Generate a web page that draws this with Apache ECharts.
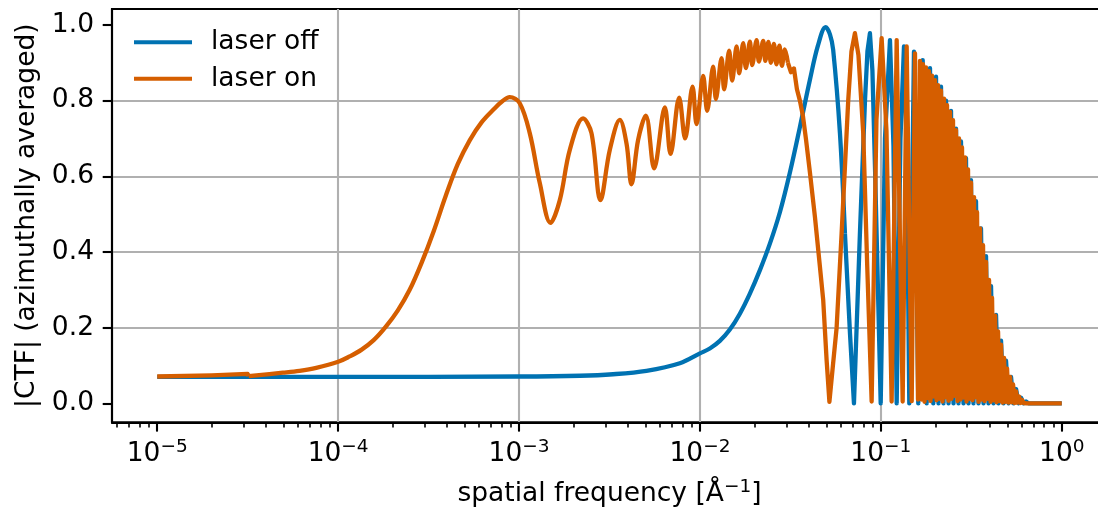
<!DOCTYPE html>
<html>
<head>
<meta charset="utf-8">
<title>CTF</title>
<script src="https://cdn.jsdelivr.net/npm/echarts@6/dist/echarts.min.js"></script>
<style>
  html, body { margin: 0; padding: 0; background: #ffffff; }
  #chart { width: 1098px; height: 521px; }
</style>
</head>
<body>
<div id="chart"></div>
<script>
// Series names
const seriesNames = ['laser off', 'laser on'];

// Laser off: spatial frequency [1/Å] and |CTF|
const offFreq = [
  1e-5, 1e-4, 1e-3, 2.17e-3, 3.31e-3, 5.06e-3, 7.74e-3, 1.00e-2, 1.134e-2, 1.288e-2,
  1.463e-2, 1.662e-2, 1.888e-2, 2.145e-2, 2.435e-2, 2.766e-2, 3.142e-2, 3.568e-2, 4.054e-2, 4.488e-2,
  4.950e-2, 5.23e-2, 5.45e-2, 5.94e-2, 6.33e-2, 6.75e-2, 7.10e-2, 7.66e-2, 8.17e-2, 8.43e-2,
  8.70e-2, 8.98e-2, 9.28e-2, 9.98e-2, 0.1054, 0.1123, 0.1174, 0.1223, 0.1283, 0.1342,
  0.1389, 0.1436, 0.1524, 0.1610, 0.1703, 0.1792, 0.1869, 0.1949, 0.2018, 0.2083,
  0.2150, 0.2220, 0.2292, 0.2366, 0.2442, 0.2521, 0.2603, 0.2687, 0.2773, 0.2863,
  0.2955, 0.3051, 0.3149, 0.3251, 0.3357, 0.3465, 0.3577, 0.3693, 0.3813, 0.3936,
  0.4064, 0.4195, 0.4331, 0.4471, 0.4616, 0.4765, 0.4919, 0.5079, 0.5243, 0.5412,
  0.5587, 0.5768, 0.5955, 0.6147, 0.6346, 0.6552, 1.0
];
const offValue = [
  0.070, 0.070, 0.071, 0.073, 0.077, 0.086, 0.106, 0.132, 0.145, 0.165,
  0.195, 0.237, 0.290, 0.352, 0.422, 0.505, 0.610, 0.730, 0.855, 0.945,
  0.994, 0.975, 0.934, 0.714, 0.449, 0.185, 0.000, 0.449, 0.800, 0.930,
  0.978, 0.880, 0.625, 0.000, 0.700, 0.960, 0.680, 0.000, 0.700, 0.943,
  0.680, 0.000, 0.929, 0.000, 0.907, 0.000, 0.886, 0.000, 0.863, 0.000,
  0.837, 0.000, 0.800, 0.000, 0.773, 0.000, 0.726, 0.000, 0.692, 0.000,
  0.648, 0.000, 0.590, 0.000, 0.534, 0.000, 0.462, 0.000, 0.389, 0.000,
  0.310, 0.000, 0.234, 0.000, 0.166, 0.000, 0.113, 0.000, 0.070, 0.000,
  0.038, 0.000, 0.015, 0.000, 0.005, 0.000, 0.000
];

// Laser on: spatial frequency [1/Å] and |CTF|
const onFreq = [
  1e-5, 2e-5, 3.16e-5, 3.20e-5, 4.95e-5, 6.12e-5, 7.57e-5, 1.00e-4, 1.157e-4, 1.349e-4,
  1.572e-4, 1.831e-4, 2.134e-4, 2.486e-4, 2.896e-4, 3.374e-4, 3.931e-4, 4.581e-4, 5.337e-4, 6.218e-4,
  7.244e-4, 8.020e-4, 8.88e-4, 1.009e-3, 1.146e-3, 1.302e-3, 1.492e-3, 1.680e-3, 1.908e-3, 2.259e-3,
  2.514e-3, 2.819e-3, 3.176e-3, 3.606e-3, 3.926e-3, 4.183e-3, 4.551e-3, 5.020e-3, 5.580e-3, 6.394e-3,
  6.878e-3, 7.674e-3, 8.279e-3, 9.101e-3, 9.576e-3, 1.0416e-2, 1.0959e-2, 1.1830e-2, 1.2243e-2, 1.3166e-2,
  1.3606e-2, 1.4502e-2, 1.5067e-2, 1.5937e-2, 1.6473e-2, 1.7333e-2, 1.7942e-2, 1.888e-2, 1.944e-2, 2.056e-2,
  2.117e-2, 2.236e-2, 2.299e-2, 2.389e-2, 2.466e-2, 2.562e-2, 2.646e-2, 2.749e-2, 2.838e-2, 2.948e-2,
  3.063e-2, 3.183e-2, 3.307e-2, 3.436e-2, 3.568e-2, 3.707e-2, 3.851e-2, 4.054e-2, 4.320e-2, 4.604e-2,
  4.801e-2, 5.013e-2, 5.195e-2, 5.432e-2, 5.694e-2, 6.068e-2, 6.330e-2, 6.603e-2, 6.877e-2, 7.189e-2,
  7.517e-2, 7.991e-2, 8.409e-2, 8.893e-2, 9.456e-2, 0.1010, 0.1074, 0.1147, 0.1223, 0.1320,
  0.1389, 0.1481, 0.1544, 0.1604, 0.16456, 0.16773, 0.17097, 0.17426, 0.17763, 0.18105,
  0.18455, 0.18811, 0.19173, 0.19543, 0.19920, 0.20305, 0.20696, 0.21096, 0.21503, 0.21917,
  0.22340, 0.22771, 0.23210, 0.23658, 0.24115, 0.24580, 0.25054, 0.25537, 0.26030, 0.26532,
  0.27044, 0.27566, 0.28098, 0.28640, 0.29192, 0.29755, 0.30329, 0.30915, 0.31511, 0.32119,
  0.32739, 0.33370, 0.34014, 0.34670, 0.35339, 0.36021, 0.36716, 0.37424, 0.38146, 0.38882,
  0.39632, 0.40397, 0.41176, 0.41970, 0.42780, 0.43605, 0.44446, 0.45304, 0.46178, 0.47069,
  0.47977, 0.48902, 0.49846, 0.50807, 0.51787, 0.52786, 0.53805, 0.54843, 0.55901, 0.56979,
  0.58079, 0.59199, 0.60341, 0.61505, 0.62692, 0.63901, 1.0
];
const onValue = [
  0.071, 0.074, 0.078, 0.072, 0.081, 0.086, 0.094, 0.110, 0.124, 0.142,
  0.167, 0.202, 0.245, 0.300, 0.372, 0.455, 0.548, 0.632, 0.695, 0.743,
  0.777, 0.797, 0.809, 0.793, 0.714, 0.582, 0.477, 0.537, 0.670, 0.753,
  0.714, 0.537, 0.670, 0.749, 0.687, 0.579, 0.696, 0.760, 0.621, 0.782,
  0.659, 0.808, 0.700, 0.837, 0.738, 0.865, 0.773, 0.890, 0.804, 0.912,
  0.830, 0.932, 0.853, 0.943, 0.872, 0.952, 0.886, 0.956, 0.894, 0.960,
  0.903, 0.958, 0.905, 0.955, 0.900, 0.950, 0.896, 0.945, 0.892, 0.935,
  0.900, 0.875, 0.885, 0.830, 0.800, 0.760, 0.700, 0.610, 0.493, 0.361,
  0.273, 0.114, 0.004, 0.100, 0.200, 0.449, 0.625, 0.802, 0.930, 0.978,
  0.920, 0.714, 0.361, 0.005, 0.750, 0.965, 0.720, 0.005, 0.960, 0.005,
  0.943, 0.006, 0.925, 0.010, 0.905, 0.010, 0.896, 0.004, 0.888, 0.014,
  0.878, 0.006, 0.866, 0.018, 0.854, 0.008, 0.841, 0.012, 0.826, 0.005,
  0.805, 0.016, 0.788, 0.007, 0.770, 0.012, 0.748, 0.020, 0.722, 0.006,
  0.700, 0.010, 0.676, 0.015, 0.650, 0.005, 0.618, 0.012, 0.583, 0.008,
  0.545, 0.016, 0.505, 0.004, 0.462, 0.010, 0.418, 0.006, 0.374, 0.012,
  0.326, 0.004, 0.279, 0.008, 0.232, 0.003, 0.190, 0.006, 0.155, 0.002,
  0.120, 0.004, 0.092, 0.002, 0.070, 0.003, 0.050, 0.001, 0.032, 0.002,
  0.018, 0.001, 0.009, 0.001, 0.004, 0.000, 0.000
];

// Axis ticks
const xMajorTicks = [1e-5, 1e-4, 1e-3, 1e-2, 1e-1, 1];
const xMinorTicks = [
  6e-6, 7e-6, 8e-6, 9e-6,
  2e-5, 3e-5, 4e-5, 5e-5, 6e-5, 7e-5, 8e-5, 9e-5,
  2e-4, 3e-4, 4e-4, 5e-4, 6e-4, 7e-4, 8e-4, 9e-4,
  2e-3, 3e-3, 4e-3, 5e-3, 6e-3, 7e-3, 8e-3, 9e-3,
  2e-2, 3e-2, 4e-2, 5e-2, 6e-2, 7e-2, 8e-2, 9e-2,
  0.2, 0.3, 0.4, 0.5, 0.6, 0.7, 0.8, 0.9
];
const yTicks = [0, 0.2, 0.4, 0.6, 0.8, 1.0];

const FONT = 'DejaVu Sans';
const FS = 26.5;
const SUP = 18.5;
const LW = 4.3;
const X_MIN = Math.pow(10, -5.25);
const X_MAX = Math.pow(10, 0.25);
const BLUE = '#0072B2';
const ORANGE = '#D55E00';

const pairs = (xs, ys) => xs.map((x, i) => [x, ys[i]]);
const range = (data, lo, hi) => data.filter(d => d[0] >= lo && d[0] <= hi);

const offData = pairs(offFreq, offValue);
const onData = pairs(onFreq, onValue);

// Slowly varying stretches are drawn smoothed, the CTF zeros and the
// dense high-frequency oscillations are drawn as straight segments.
function lineSeries(name, color, data, smooth, z) {
  return {
    name: name, type: 'line', xAxisIndex: 0, yAxisIndex: 0,
    data: data, smooth: smooth,
    showSymbol: false, symbol: 'none',
    lineStyle: { color: color, width: LW, join: 'round' },
    itemStyle: { color: color },
    emphasis: { disabled: true }, z: z
  };
}

const chart = echarts.init(document.getElementById('chart'), null, { renderer: 'canvas' });

chart.setOption({
  animation: false,
  backgroundColor: '#ffffff',
  textStyle: { fontFamily: FONT },
  grid: {
    left: 112, top: 9, width: 995, height: 413.3,
    show: true, borderColor: '#000000', borderWidth: 2.1, backgroundColor: 'transparent',
    containLabel: false, outerBoundsMode: 'none'
  },
  legend: {
    orient: 'vertical', left: 134, top: 28.7, padding: 0, itemGap: 9.6,
    itemWidth: 58, itemHeight: 4, icon: 'rect', selectedMode: false,
    data: seriesNames,
    formatter: name => '{t|' + name + '}',
    textStyle: {
      rich: { t: { fontFamily: FONT, fontSize: FS, color: '#000000', padding: [0, 0, 0, 14], lineHeight: 30 } }
    }
  },
  xAxis: [
    {
      type: 'log', logBase: 10, min: X_MIN, max: X_MAX, position: 'bottom',
      name: '{a|spatial frequency [Å}{s|\u22121}{a|]}',
      nameLocation: 'middle', nameGap: 55,
      nameTextStyle: {
        rich: {
          a: { fontFamily: FONT, fontSize: FS, color: '#000000', lineHeight: 30, verticalAlign: 'bottom' },
          s: { fontFamily: FONT, fontSize: SUP, color: '#000000', lineHeight: 20, verticalAlign: 'top' }
        }
      },
      axisLine: { show: true, onZero: false, lineStyle: { color: '#000000', width: 2.1 } },
      axisTick: { show: true, customValues: xMajorTicks, length: 9.3, lineStyle: { color: '#000000', width: 2.1 } },
      axisLabel: {
        show: true, customValues: xMajorTicks, margin: 15,
        formatter: v => {
          const e = Math.round(Math.log10(v));
          return '{b|10}{s|' + (e < 0 ? '\u2212' + (-e) : String(e)) + '}';
        },
        rich: {
          b: { fontFamily: FONT, fontSize: FS, color: '#000000', lineHeight: 30, verticalAlign: 'bottom' },
          s: { fontFamily: FONT, fontSize: SUP, color: '#000000', lineHeight: 20, verticalAlign: 'top' }
        }
      },
      splitLine: { show: true, showMinLine: false, showMaxLine: false, lineStyle: { color: '#b0b0b0', width: 2.1 } },
      minorTick: { show: false },
      minorSplitLine: { show: false }
    },
    {
      // minor ticks of the log axis
      type: 'log', logBase: 10, min: X_MIN, max: X_MAX, position: 'bottom', gridIndex: 0,
      axisLine: { show: false, onZero: false },
      axisTick: { show: true, customValues: xMinorTicks, length: 5.3, lineStyle: { color: '#000000', width: 1.6 } },
      axisLabel: { show: false },
      splitLine: { show: false }
    }
  ],
  yAxis: {
    type: 'value', min: -0.05, max: 1.042,
    name: '|CTF| (azimuthally averaged)',
    nameLocation: 'middle', nameGap: 71,
    nameTextStyle: { fontFamily: FONT, fontSize: FS, color: '#000000' },
    axisLine: { show: true, onZero: false, lineStyle: { color: '#000000', width: 2.1 } },
    axisTick: { show: true, customValues: yTicks, length: 9.3, lineStyle: { color: '#000000', width: 2.1 } },
    axisLabel: {
      show: true, customValues: yTicks, margin: 18,
      formatter: v => v.toFixed(1),
      fontFamily: FONT, fontSize: FS, color: '#000000'
    },
    splitLine: { show: true, showMinLine: false, showMaxLine: false, lineStyle: { color: '#b0b0b0', width: 2.1 } }
  },
  series: [
    lineSeries(seriesNames[0], BLUE, range(offData, 1e-5, 6.33e-2), 0.35, 2),
    lineSeries(seriesNames[0], BLUE, range(offData, 6.33e-2, 1), false, 2),
    lineSeries(seriesNames[1], ORANGE, range(onData, 1e-5, 3.20e-5), false, 3),
    lineSeries(seriesNames[1], ORANGE, range(onData, 3.20e-5, 3.063e-2), 0.35, 3),
    lineSeries(seriesNames[1], ORANGE, range(onData, 3.063e-2, 1), false, 3)
  ]
});
</script>
</body>
</html>
